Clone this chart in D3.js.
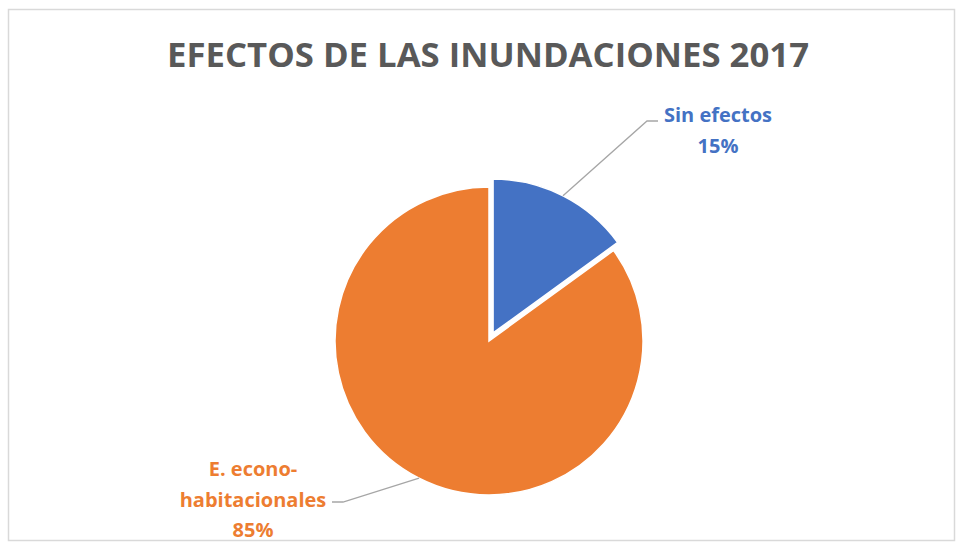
<!DOCTYPE html>
<html>
<head>
  <meta charset="utf-8">
  <style>
    body { margin: 0; background: #fff; }
    svg text { font-family: "Open Sans", "DejaVu Sans", sans-serif; font-weight: bold; }
  </style>
</head>
<body>
<script src="https://d3js.org/d3.v7.min.js"></script>
<script>
  // data
  var categories = ["Sin efectos", "E. econo-habitacionales"];
  var values = [15, 85];
  var labelNames = [["Sin efectos"], ["E. econo-", "habitacionales"]];
  var colors = ["#4472C4", "#ED7D31"];
  var title = "EFECTOS DE LAS INUNDACIONES 2017";

  var width = 961, height = 546;
  var cx = 489, cy = 341, radius = 154;
  var explode = [9, 0];

  // label placement: centre x, first baseline, leader elbow and end
  var labelPos = [
    { x: 718, y: 122, elbow: [647, 121], end: [658, 121] },
    { x: 253, y: 476, elbow: [343, 502], end: [332, 502] }
  ];

  var svg = d3.select("body").append("svg")
      .attr("width", width)
      .attr("height", height);

  svg.append("rect")
      .attr("width", width).attr("height", height)
      .attr("fill", "#fff");

  // chart border
  svg.append("rect")
      .attr("x", 8.5).attr("y", 9.5)
      .attr("width", 946).attr("height", 531)
      .attr("fill", "none")
      .attr("stroke", "#d9d9d9")
      .attr("stroke-width", 1.5);

  svg.append("text")
      .attr("x", 488)
      .attr("y", 67)
      .attr("text-anchor", "middle")
      .attr("textLength", 642)
      .attr("lengthAdjust", "spacingAndGlyphs")
      .style("font-size", "34px")
      .style("fill", "#595959")
      .text(title);

  var pie = d3.pie().sort(null).value(function(d) { return d; });
  var arcs = pie(values);

  var arc = d3.arc().innerRadius(0).outerRadius(radius);
  var edge = d3.arc().innerRadius(radius).outerRadius(radius);

  function offset(d, i) {
    var a = (d.startAngle + d.endAngle) / 2;
    return [Math.sin(a) * explode[i], -Math.cos(a) * explode[i]];
  }

  var g = svg.append("g")
      .attr("transform", "translate(" + cx + "," + cy + ")");

  g.selectAll("path.slice")
    .data(arcs)
    .enter().append("path")
      .attr("class", "slice")
      .attr("transform", function(d, i) {
        var o = offset(d, i);
        return "translate(" + o[0] + "," + o[1] + ")";
      })
      .attr("d", arc)
      .attr("fill", function(d, i) { return colors[i]; })
      .attr("stroke", "#fff")
      .attr("stroke-width", 1.5);

  // leader lines
  var fmt = d3.format(".0%");
  var total = d3.sum(values);

  arcs.forEach(function(d, i) {
    var o = offset(d, i);
    var p = edge.centroid(d);
    var start = [cx + p[0] + o[0], cy + p[1] + o[1]];
    var lp = labelPos[i];
    svg.append("polyline")
        .attr("points", [start, lp.elbow, lp.end].map(function(q) { return q.join(","); }).join(" "))
        .attr("fill", "none")
        .attr("stroke", "#a6a6a6")
        .attr("stroke-width", 1.3);

    var lines = labelNames[i].concat([fmt(values[i] / total)]);
    var t = svg.append("text")
        .attr("text-anchor", "middle")
        .style("font-size", "20px")
        .style("fill", colors[i]);
    lines.forEach(function(s, k) {
      t.append("tspan")
          .attr("x", lp.x)
          .attr("y", lp.y + k * 30.5)
          .text(s);
    });
  });
</script>
</body>
</html>
